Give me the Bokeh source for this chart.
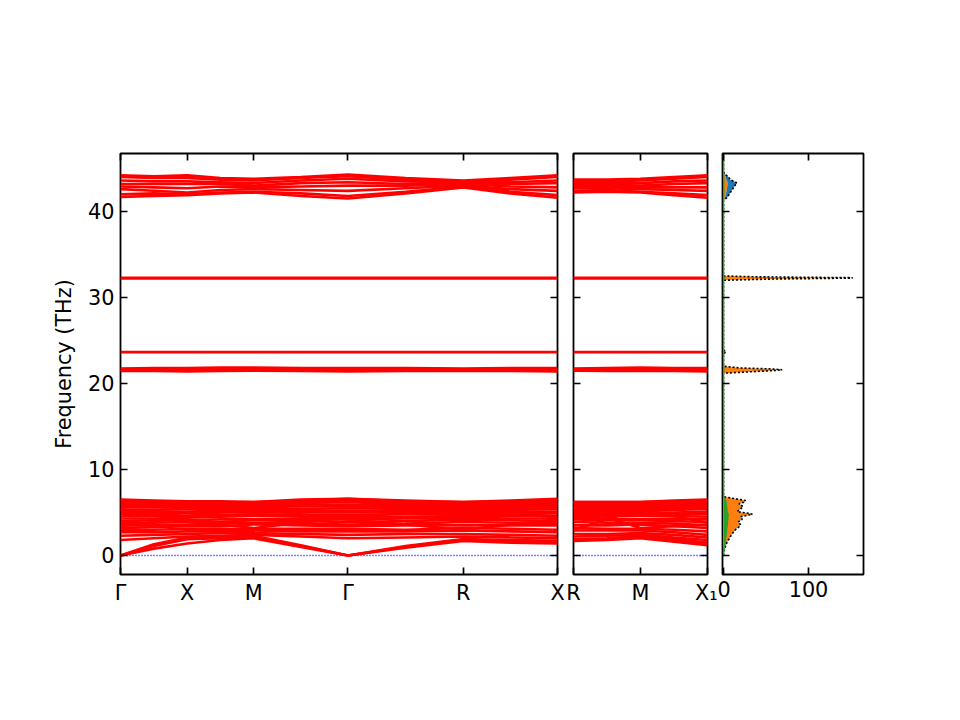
from bokeh.plotting import figure
from bokeh.layouts import row
from bokeh.models import Range1d, FixedTicker, LinearAxis, Span, CustomJSTickFormatter
from bokeh.embed import file_html
from bokeh.resources import INLINE

# path distances of the high-symmetry points
path_left = [0.0, 0.5, 1.0, 1.7071, 2.5731, 3.2802]
labels_left = ["Γ", "X", "M", "Γ", "R", "X"]
path_mid = [0.0, 0.5, 1.0]
labels_mid = ["R", "M", "X₁"]

# k-points where band frequencies were read (high-symmetry points + midpoints)
k_left = [0.0, 0.25, 0.5, 0.75, 1.0, 1.3536, 1.7071, 2.1401, 2.5731, 2.9267, 3.2802]
k_mid = [0.0, 0.25, 0.5, 0.75, 1.0]

# THz, Γ  .  X  .  M  .  Γ  .  R  .  X
bands_left = [
    [0.0, 0.8, 1.4, 1.8, 2.0, 1.0, 0.0, 0.9, 1.7, 1.5, 1.4],
    [0.0, 1.1, 1.9, 2.0, 2.1, 1.1, 0.0, 1.0, 1.8, 1.6, 1.5],
    [0.0, 1.3, 2.1, 2.2, 2.3, 1.2, 0.0, 1.1, 1.9, 1.8, 1.7],
    [1.8, 2.0, 2.2, 2.3, 2.4, 2.2, 2.0, 2.1, 2.2, 2.1, 2.0],
    [2.3, 2.4, 2.5, 2.6, 2.6, 2.5, 2.4, 2.5, 2.5, 2.4, 2.3],
    [2.7, 2.7, 2.8, 2.8, 2.9, 2.8, 2.8, 2.8, 2.9, 2.8, 2.7],
    [3.0, 3.0, 3.1, 3.1, 3.1, 3.1, 3.1, 3.0, 3.2, 3.1, 3.0],
    [3.2, 3.3, 3.4, 3.4, 3.6, 3.5, 3.4, 3.5, 3.5, 3.5, 3.5],
    [3.5, 3.5, 3.6, 3.7, 3.8, 3.7, 3.6, 3.7, 3.9, 3.8, 3.8],
    [3.8, 3.8, 3.9, 3.9, 4.1, 4.0, 3.9, 4.0, 4.2, 4.1, 4.0],
    [4.0, 4.1, 4.1, 4.2, 4.2, 4.2, 4.2, 4.3, 4.4, 4.3, 4.3],
    [4.3, 4.3, 4.4, 4.5, 4.6, 4.5, 4.5, 4.5, 4.6, 4.6, 4.6],
    [4.6, 4.6, 4.6, 4.7, 4.8, 4.7, 4.7, 4.8, 4.8, 4.8, 4.9],
    [4.8, 4.8, 4.9, 5.0, 5.0, 5.0, 5.0, 5.0, 5.0, 5.1, 5.1],
    [5.1, 5.1, 5.1, 5.2, 5.2, 5.2, 5.2, 5.2, 5.2, 5.3, 5.4],
    [5.3, 5.3, 5.4, 5.4, 5.4, 5.4, 5.5, 5.4, 5.4, 5.5, 5.6],
    [5.6, 5.6, 5.6, 5.6, 5.6, 5.7, 5.7, 5.6, 5.6, 5.7, 5.8],
    [5.8, 5.8, 5.8, 5.8, 5.8, 5.9, 5.9, 5.8, 5.8, 5.9, 6.0],
    [6.0, 6.0, 6.0, 6.0, 6.0, 6.1, 6.2, 6.0, 6.0, 6.1, 6.1],
    [6.2, 6.2, 6.1, 6.1, 6.1, 6.3, 6.4, 6.2, 6.1, 6.2, 6.3],
    [6.4, 6.3, 6.2, 6.2, 6.2, 6.4, 6.6, 6.3, 6.2, 6.3, 6.5],
    [6.5, 6.4, 6.3, 6.3, 6.2, 6.5, 6.6, 6.4, 6.2, 6.4, 6.6],
    [3.4, 3.9, 4.6, 5.0, 5.4, 4.8, 4.2, 3.6, 3.0, 3.6, 4.2],
    [5.4, 4.8, 4.0, 3.6, 3.2, 3.8, 4.4, 5.0, 5.6, 5.0, 4.4],
    [21.45, 21.45, 21.4, 21.45, 21.5, 21.45, 21.4, 21.45, 21.5, 21.45, 21.4],
    [21.55, 21.55, 21.55, 21.6, 21.6, 21.6, 21.55, 21.55, 21.6, 21.55, 21.55],
    [21.65, 21.7, 21.7, 21.7, 21.75, 21.7, 21.7, 21.7, 21.65, 21.7, 21.7],
    [21.75, 21.8, 21.8, 21.85, 21.85, 21.8, 21.8, 21.8, 21.75, 21.8, 21.8],
    [23.65, 23.65, 23.65, 23.65, 23.65, 23.65, 23.65, 23.65, 23.65, 23.65, 23.65],
    [32.2, 32.2, 32.2, 32.2, 32.2, 32.2, 32.2, 32.2, 32.2, 32.2, 32.2],
    [32.3, 32.3, 32.3, 32.3, 32.3, 32.3, 32.3, 32.3, 32.3, 32.3, 32.3],
    [44.2, 44.1, 44.2, 43.9, 43.8, 44.0, 44.3, 43.9, 43.6, 43.9, 44.2],
    [44.0, 43.9, 43.9, 43.7, 43.6, 43.9, 44.1, 43.7, 43.5, 43.7, 44.0],
    [43.6, 43.5, 43.5, 43.4, 43.3, 43.6, 43.8, 43.5, 43.4, 43.4, 43.6],
    [43.2, 43.2, 43.2, 43.2, 43.0, 43.3, 43.4, 43.2, 43.3, 43.2, 43.3],
    [42.9, 42.8, 42.7, 42.9, 42.8, 42.9, 43.0, 43.0, 43.2, 42.9, 42.8],
    [42.6, 42.4, 42.2, 42.5, 42.6, 42.5, 42.4, 42.7, 43.0, 42.6, 42.4],
    [42.0, 42.1, 42.0, 42.2, 42.3, 42.1, 41.8, 42.3, 42.9, 42.3, 41.9],
    [41.7, 41.8, 41.9, 42.1, 42.2, 41.8, 41.5, 42.1, 42.8, 42.1, 41.6],
]

# THz, R  .  M  .  X1
bands_mid = [
    [1.7, 1.8, 2.0, 1.6, 1.2],
    [1.8, 1.9, 2.1, 1.7, 1.3],
    [1.9, 2.0, 2.3, 1.9, 1.5],
    [2.2, 2.3, 2.4, 2.1, 1.8],
    [2.5, 2.5, 2.6, 2.4, 2.1],
    [2.9, 2.9, 2.9, 2.7, 2.4],
    [3.2, 3.1, 3.1, 3.0, 2.8],
    [3.5, 3.5, 3.6, 3.4, 3.2],
    [3.9, 3.8, 3.8, 3.7, 3.5],
    [4.2, 4.1, 4.1, 4.0, 3.9],
    [4.4, 4.3, 4.2, 4.3, 4.2],
    [4.6, 4.6, 4.6, 4.6, 4.5],
    [4.8, 4.8, 4.8, 4.8, 4.8],
    [5.0, 5.0, 5.0, 5.0, 5.1],
    [5.2, 5.2, 5.2, 5.3, 5.4],
    [5.4, 5.4, 5.4, 5.5, 5.6],
    [5.6, 5.6, 5.6, 5.7, 5.8],
    [5.8, 5.8, 5.8, 5.9, 6.0],
    [6.0, 6.0, 6.0, 6.1, 6.2],
    [6.1, 6.1, 6.1, 6.2, 6.3],
    [6.2, 6.2, 6.2, 6.3, 6.4],
    [6.2, 6.2, 6.2, 6.4, 6.5],
    [3.0, 4.2, 5.4, 4.6, 3.8],
    [5.6, 4.4, 3.2, 3.4, 3.6],
    [21.5, 21.45, 21.5, 21.45, 21.4],
    [21.6, 21.6, 21.6, 21.55, 21.55],
    [21.65, 21.7, 21.75, 21.7, 21.7],
    [21.75, 21.8, 21.85, 21.8, 21.8],
    [23.65, 23.65, 23.65, 23.65, 23.65],
    [32.2, 32.2, 32.2, 32.2, 32.2],
    [32.3, 32.3, 32.3, 32.3, 32.3],
    [43.7, 43.7, 43.8, 44.0, 44.2],
    [43.5, 43.5, 43.6, 43.8, 44.0],
    [43.3, 43.3, 43.3, 43.5, 43.6],
    [43.1, 43.1, 43.0, 43.2, 43.3],
    [42.9, 42.9, 42.8, 42.8, 42.8],
    [42.7, 42.7, 42.6, 42.5, 42.4],
    [42.4, 42.5, 42.3, 42.1, 41.9],
    [42.2, 42.3, 42.2, 41.9, 41.6],
]

# phonon DOS (states/THz) split by atom type
dos_freq = [0.0, 0.5, 1.0, 1.5, 2.0, 2.5, 3.0, 3.3, 3.6, 3.9, 4.2, 4.5, 4.8, 4.9,
            5.1, 5.4, 5.7, 6.0, 6.2, 6.4, 6.6, 6.8, 7.0,
            21.2, 21.4, 21.5, 21.6, 21.7, 21.8, 22.0,
            23.4, 23.6, 23.7, 23.9,
            32.0, 32.15, 32.25, 32.3, 32.4, 32.5,
            41.3, 41.6, 41.9, 42.2, 42.5, 42.8, 43.1, 43.3, 43.5, 43.7, 44.0, 44.3, 44.6,
            46.7]
dos_green = [0.0, 0.3, 1.0, 1.8, 2.5, 3.0, 3.5, 4.0, 4.5, 4.5, 5.0, 5.0, 5.5, 5.0,
             4.0, 4.0, 3.5, 3.0, 3.0, 2.5, 1.5, 0.3, 0.0,
             0.0, 0.2, 0.3, 0.3, 0.2, 0.1, 0.0,
             0.0, 0.0, 0.0, 0.0,
             0.0, 0.5, 1.0, 1.0, 0.3, 0.0,
             0.0, 0.1, 0.1, 0.2, 0.2, 0.2, 0.2, 0.3, 0.2, 0.2, 0.1, 0.1, 0.0,
             0.0]
dos_orange = [0.0, 0.2, 1.0, 2.0, 4.2, 6.5, 10.0, 13.4, 14.9, 12.0, 16.2, 14.2, 27.5, 24.0,
              11.4, 15.3, 18.7, 14.4, 20.2, 22.7, 12.0, 1.6, 0.0,
              0.0, 39.3, 59.0, 67.9, 54.2, 19.6, 0.0,
              0.0, 1.8, 2.7, 0.0,
              0.0, 58.0, 146.0, 148.0, 38.5, 0.0,
              0.0, 1.5, 2.5, 3.0, 3.5, 4.0, 4.5, 4.5, 4.0, 3.0, 2.5, 1.0, 0.0,
              0.0]
dos_blue = [0.0, 0.0, 0.0, 0.2, 0.3, 0.5, 0.5, 0.6, 0.6, 0.5, 0.8, 0.8, 1.0, 1.0,
            0.6, 0.7, 0.8, 0.6, 0.8, 0.8, 0.5, 0.1, 0.0,
            0.0, 0.5, 0.7, 0.8, 0.6, 0.3, 0.0,
            0.0, 0.2, 0.3, 0.0,
            0.0, 1.5, 3.0, 3.0, 1.2, 0.0,
            0.0, 2.4, 3.4, 4.8, 6.3, 7.8, 9.3, 11.2, 7.8, 4.8, 3.4, 0.9, 0.0,
            0.0]

freq_ticks = [0, 10, 20, 30, 40]
dos_ticks = [0, 100]

FONT = "DejaVu Sans"
FS = "20.8px"
yr = Range1d(-2.21, 46.74)


def label_formatter(tvals, tlabels):
    return CustomJSTickFormatter(args=dict(tvals=tvals, tlabels=tlabels), code="""
        const i = tvals.findIndex(t => Math.abs(t - tick) < 1e-6);
        return i >= 0 ? tlabels[i] : "";
    """)


def blank_formatter():
    return CustomJSTickFormatter(code="return '';")


def style(ax, ticks, formatter=None):
    ax.ticker = FixedTicker(ticks=ticks)
    ax.axis_line_color = None
    ax.major_tick_in = 7
    ax.major_tick_out = 0
    ax.major_tick_line_width = 1.7
    ax.major_tick_line_color = "black"
    ax.minor_tick_line_color = None
    ax.major_label_text_font = FONT
    ax.major_label_text_font_size = FS
    ax.major_label_text_color = "black"
    if formatter is None:
        ax.formatter = blank_formatter()
        ax.major_label_standoff = 0
    else:
        ax.formatter = formatter
        ax.major_label_standoff = 6


def make_fig(xr, bl, br, fw):
    p = figure(x_range=xr, y_range=yr, frame_width=fw, frame_height=421,
               min_border_left=bl, min_border_right=br, min_border_top=153,
               min_border_bottom=138, toolbar_location=None, output_backend="svg")
    p.grid.visible = False
    p.outline_line_color = "black"
    p.outline_line_width = 1.8
    p.background_fill_color = "white"
    p.border_fill_color = "white"
    return p


def add_frame_axes(p, xticks, yticks, xfmt, yfmt):
    style(p.xaxis[0], xticks, xfmt)
    style(p.yaxis[0], yticks, yfmt)
    top = LinearAxis()
    style(top, xticks)
    p.add_layout(top, "above")
    right = LinearAxis()
    style(right, yticks)
    p.add_layout(right, "right")


# band structure, first path
p1 = make_fig(Range1d(0, path_left[-1]), 120, 8, 437)
add_frame_axes(p1, path_left, freq_ticks, label_formatter(path_left, labels_left),
               label_formatter(freq_ticks, [str(t) for t in freq_ticks]))
p1.yaxis[0].axis_label = "Frequency (THz)"
p1.yaxis[0].axis_label_text_font = FONT
p1.yaxis[0].axis_label_text_font_size = FS
p1.yaxis[0].axis_label_text_font_style = "normal"
p1.yaxis[0].axis_label_text_color = "black"
p1.yaxis[0].axis_label_standoff = 9
p1.add_layout(Span(location=0, dimension="width", line_color="#0000ff", line_width=1.6,
                   line_dash="1 2", level="underlay"))
p1.multi_line([k_left] * len(bands_left), bands_left, line_color="red", line_width=2.6)

# band structure, second path
p2 = make_fig(Range1d(0, path_mid[-1]), 8, 10, 134)
add_frame_axes(p2, path_mid, freq_ticks, label_formatter(path_mid, labels_mid), None)
p2.add_layout(Span(location=0, dimension="width", line_color="#0000ff", line_width=1.6,
                   line_dash="1 2", level="underlay"))
p2.multi_line([k_mid] * len(bands_mid), bands_mid, line_color="red", line_width=2.6)

# projected DOS
p3 = make_fig(Range1d(-1.2, 164.7), 5, 89, 141)
add_frame_axes(p3, dos_ticks, freq_ticks, label_formatter(dos_ticks, ["0", "100"]), None)
zero = [0.0] * len(dos_freq)
g_top = [g for g in dos_green]
o_top = [g + o for g, o in zip(dos_green, dos_orange)]
total = [g + o + b for g, o, b in zip(dos_green, dos_orange, dos_blue)]
p3.harea(x1=zero, x2=g_top, y=dos_freq, fill_color="#2ca02c")
p3.harea(x1=g_top, x2=o_top, y=dos_freq, fill_color="#ff7f0e")
p3.harea(x1=o_top, x2=total, y=dos_freq, fill_color="#1f77b4")
p3.line(total, dos_freq, line_color="black", line_width=1.6, line_dash="2 2")
p3.line(dos_green, dos_freq, line_color="#2ca02c", line_width=1.5)

layout = row(p1, p2, p3)
open("out.html", "w").write(file_html(layout, INLINE))
